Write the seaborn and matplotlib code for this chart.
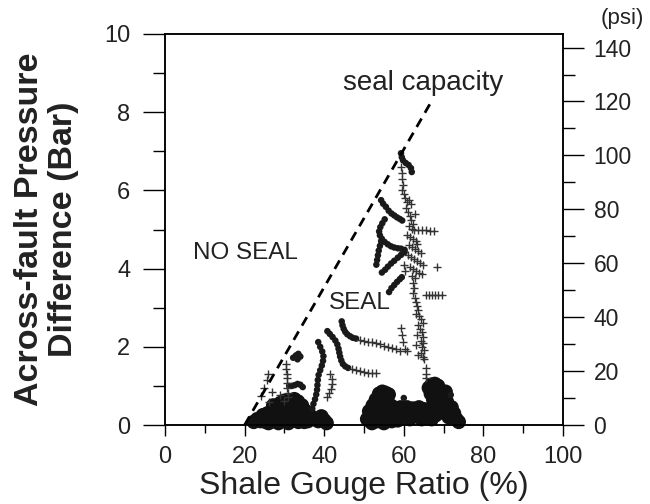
import matplotlib
matplotlib.use("Agg")
import matplotlib.pyplot as plt
from matplotlib.ticker import MultipleLocator
import seaborn as sns
import pandas as pd

# ---- data -------------------------------------------------------------
# seal-capacity envelope (SGR %, pressure bar)
seal_x = [20.0, 66.8]
seal_y = [0.0, 8.25]

# continuous pressure profiles plotted as dots
dot_x = [
    59.3, 59.5, 59.8, 60.5, 61.2, 61.8, 62.0,
    54.3, 54.8, 55.5, 56.2, 56.9, 57.6, 58.3, 59.0, 59.6,
    55.2, 54.6, 54.1, 53.8, 54.0, 54.5, 55.2, 56.0, 56.8, 57.6, 58.5, 59.3, 60.2,
    54.3, 54.0, 53.7, 53.5, 53.3, 53.1,
    54.5, 55.3, 56.0, 56.8, 57.6, 58.5, 59.3, 60.2,
    56.3, 56.9, 57.6, 58.3, 59.0, 59.5,
    44.4, 44.6, 44.9, 45.3, 45.8, 46.5, 47.2, 48.0,
    40.8, 41.4, 42.1, 42.8, 43.3, 43.6, 43.8, 44.0, 44.3, 44.7, 45.3, 46.0,
    38.5, 39.0, 39.5, 39.8, 39.7, 39.4, 39.0, 38.6, 38.4, 38.3, 38.2, 38.0, 37.7, 37.3, 37.0,
    31.2, 31.9, 32.6, 33.3, 34.0, 34.6,
    32.2, 32.9, 33.5, 34.0, 33.3,
    60.0, 71.8,
]
dot_y = [
    6.95, 6.85, 6.77, 6.70, 6.65, 6.57, 6.47,
    5.75, 5.66, 5.58, 5.48, 5.41, 5.36, 5.31, 5.27, 5.23,
    5.26, 5.16, 5.06, 4.95, 4.85, 4.76, 4.68, 4.62, 4.57, 4.54, 4.52, 4.51, 4.48,
    4.70, 4.58, 4.46, 4.34, 4.22, 4.10,
    3.90, 3.97, 4.05, 4.13, 4.20, 4.28, 4.35, 4.42,
    3.40, 3.50, 3.58, 3.66, 3.73, 3.78,
    2.65, 2.55, 2.46, 2.38, 2.32, 2.27, 2.23, 2.21,
    2.40, 2.33, 2.25, 2.16, 2.06, 1.95, 1.85, 1.75, 1.65, 1.56, 1.50, 1.46,
    2.12, 2.00, 1.88, 1.76, 1.64, 1.52, 1.40, 1.28, 1.15, 1.02, 0.90, 0.78, 0.66, 0.54, 0.42,
    1.00, 1.00, 1.02, 1.05, 1.03, 0.97,
    1.72, 1.78, 1.82, 1.75, 1.68,
    0.69, 0.77,
]

# individual measurements plotted as crosses
plus_x = [
    59.3, 59.6, 59.5, 59.8, 59.6, 60.0, 60.4, 60.8, 61.3, 61.8,
    60.6, 61.0, 61.5, 61.8, 62.3, 61.4, 62.0, 62.7,
    62.5, 63.5, 64.5, 65.5, 66.5, 67.5,
    60.8, 61.5, 62.3, 63.0, 61.2, 62.0, 62.8, 63.5, 64.2, 61.0, 61.8, 62.5,
    63.3, 64.0, 64.7, 61.5, 62.3, 63.0, 63.8, 64.5, 62.0, 62.8, 60.4, 60.1, 63.4,
    68.3,
    62.3, 62.5, 62.4, 62.7, 63.0, 63.3, 63.6, 63.1, 63.8, 64.3, 64.7, 63.5, 64.0,
    64.5, 64.8, 64.2, 64.9, 64.5, 65.0, 64.3, 63.6, 64.8, 65.1, 63.3, 63.0,
    65.5, 66.3, 67.1, 67.9, 68.7, 69.5,
    59.3, 59.5, 59.8, 60.3, 60.8,
    65.5, 65.7, 65.5,
    49.0, 50.0, 51.0, 52.0, 53.0, 54.0, 55.0, 56.0, 57.0, 58.0, 59.0,
    47.0, 48.0, 49.0, 50.0, 51.0, 52.0, 53.0,
    41.5, 41.9, 42.0, 41.7, 41.2, 40.7,
    30.5, 30.5, 30.6, 30.6, 30.7, 30.7, 30.8, 30.8,
    24.0, 24.8, 25.6, 26.2, 27.0, 28.8, 29.8, 26.0,
]
plus_y = [
    6.60, 6.45, 6.30, 6.15, 6.00, 5.90, 5.80, 5.70, 5.75, 5.65,
    5.55, 5.45, 5.35, 5.25, 5.15, 5.10, 5.02, 5.40,
    4.99, 4.99, 4.98, 4.98, 4.97, 4.97,
    4.85, 4.80, 4.75, 4.70, 4.60, 4.55, 4.50, 4.45, 4.40, 4.35, 4.30, 4.25,
    4.20, 4.15, 4.10, 4.05, 4.00, 3.95, 3.90, 3.85, 3.80, 3.75, 3.95, 4.10, 4.62,
    4.04,
    3.62, 3.50, 3.38, 3.26, 3.15, 3.05, 2.95, 2.85, 2.80, 2.72, 2.62, 2.55, 2.45,
    2.38, 2.25, 2.15, 2.10, 2.00, 1.92, 1.85, 1.78, 1.75, 1.68, 2.30, 2.05,
    3.32, 3.32, 3.32, 3.33, 3.33, 3.33,
    2.48, 2.30, 2.12, 1.95, 1.88,
    1.45, 1.30, 1.20,
    2.18, 2.16, 2.13, 2.11, 2.09, 2.06, 2.03, 2.00, 1.97, 1.94, 1.89,
    1.43, 1.41, 1.38, 1.36, 1.34, 1.33, 1.33,
    1.30, 1.18, 1.05, 0.93, 0.82, 0.72,
    1.55, 1.43, 1.31, 1.19, 1.07, 0.95, 0.83, 0.71,
    0.75, 0.95, 1.15, 0.60, 0.85, 0.78, 0.62, 1.30,
]

# dense clusters of low-pressure measurements
blob_x = [
    22.3, 23.2, 24.0, 24.6, 25.3, 25.8, 26.4, 27.0, 27.5, 28.0, 28.6, 29.1, 29.6,
    30.2, 30.7, 31.2, 31.8, 32.3, 32.8, 33.4, 33.9, 34.4, 34.9, 35.4, 35.9, 36.4,
    26.0, 28.5, 31.0, 33.5, 30.0, 32.5, 29.0, 27.2, 34.0, 35.0,
    38.5, 39.3, 40.0, 40.6,
    50.8, 51.3, 51.6, 52.2, 52.5, 53.0, 53.3, 53.8, 54.0, 54.6, 54.8, 55.4, 55.5,
    56.2, 56.0, 56.7, 57.0, 52.0, 55.0,
    57.5, 58.3, 58.5, 59.2, 60.0, 60.8, 61.5, 62.3, 63.0, 63.8, 64.5, 65.2, 66.0,
    66.3, 67.0, 67.8, 68.6, 66.8, 67.4, 68.0, 68.5, 69.2, 69.0, 69.8, 70.3, 70.8,
    71.3, 72.0, 72.6, 73.2, 73.8, 67.0, 68.0, 66.5, 70.5,
]
blob_y = [
    0.08, 0.15, 0.10, 0.25, 0.08, 0.30, 0.15, 0.38, 0.10, 0.30, 0.45, 0.15, 0.35,
    0.50, 0.20, 0.40, 0.55, 0.25, 0.45, 0.60, 0.30, 0.50, 0.20, 0.35, 0.10, 0.25,
    0.05, 0.05, 0.05, 0.08, 0.62, 0.66, 0.56, 0.50, 0.12, 0.08,
    0.10, 0.22, 0.12, 0.05,
    0.15, 0.35, 0.10, 0.50, 0.25, 0.65, 0.10, 0.80, 0.40, 0.85, 0.20, 0.82, 0.55,
    0.78, 0.30, 0.50, 0.10, 0.05, 0.05,
    0.45, 0.30, 0.12, 0.45, 0.25, 0.45, 0.15, 0.42, 0.28, 0.45, 0.15, 0.40, 0.25,
    0.95, 1.03, 1.05, 1.00, 0.80, 0.65, 0.50, 0.70, 0.85, 0.40, 0.55, 0.30, 0.60,
    0.20, 0.45, 0.30, 0.15, 0.08, 0.15, 0.25, 0.40, 0.85,
]

# right-hand axis: bar -> psi
BAR_TO_PSI = 14.5038

# ---- figure -----------------------------------------------------------
sns.set_theme(style="ticks")
plt.rcParams["font.family"] = ["Liberation Sans", "DejaVu Sans"]
plt.rcParams["axes.linewidth"] = 1.1

fig = plt.figure(figsize=(6.5, 5.04), dpi=100)
ax = fig.add_axes([165 / 650, 1 - 425 / 504, (563 - 165) / 650, (425 - 34) / 504])

blobs = pd.DataFrame({"sgr": blob_x, "dp": blob_y})
dots = pd.DataFrame({"sgr": dot_x, "dp": dot_y})
plus = pd.DataFrame({"sgr": plus_x, "dp": plus_y})
seal = pd.DataFrame({"sgr": seal_x, "dp": seal_y})

sns.scatterplot(data=blobs, x="sgr", y="dp", ax=ax, s=110, color="#111111",
                edgecolor="none", marker="o", clip_on=False, zorder=3)
sns.scatterplot(data=dots, x="sgr", y="dp", ax=ax, s=22, color="#1a1a1a",
                edgecolor="none", marker="o", zorder=3)
sns.scatterplot(data=plus, x="sgr", y="dp", ax=ax, s=32, color="#333333",
                marker="+", linewidth=1.0, zorder=3)
sns.lineplot(data=seal, x="sgr", y="dp", ax=ax, color="black", linewidth=2.0,
             dashes=False, zorder=4)
ax.lines[-1].set_dashes([3.5, 2.4])

ax.set_xlim(0, 100)
ax.set_ylim(0, 10)
ax.xaxis.set_major_locator(MultipleLocator(20))
ax.xaxis.set_minor_locator(MultipleLocator(10))
ax.yaxis.set_major_locator(MultipleLocator(2))
ax.yaxis.set_minor_locator(MultipleLocator(1))
ax.tick_params(axis="y", which="major", length=16, width=1.0, pad=9,
               labelsize=17, color="black", labelcolor="#222222")
ax.tick_params(axis="y", which="minor", length=8.5, width=1.0, color="black")
ax.tick_params(axis="x", which="major", length=8, width=1.0, pad=7,
               labelsize=17, color="black", labelcolor="#222222")
ax.tick_params(axis="x", which="minor", length=6, width=1.0, color="black")
for sp in ax.spines.values():
    sp.set_color("black")
    sp.set_visible(True)

ax.set_xlabel("Shale Gouge Ratio (%)", fontsize=23, color="#222222", labelpad=2)
ax.set_ylabel("Across-fault Pressure\nDifference (Bar)", fontsize=24.5,
              fontweight="bold", color="#222222", labelpad=18, linespacing=1.12)

ax.text(64.9, 8.75, "seal capacity", fontsize=20, ha="center", va="center",
        color="#222222")
ax.text(20.3, 4.4, "NO SEAL", fontsize=17.5, ha="center", va="center",
        color="#222222")
ax.text(49.0, 3.12, "SEAL", fontsize=17.5, ha="center", va="center",
        color="#222222")

# secondary pressure scale in psi
ax2 = ax.twinx()
ax2.set_ylim(0, 10 * BAR_TO_PSI)
ax2.yaxis.set_major_locator(MultipleLocator(20))
ax2.yaxis.set_minor_locator(MultipleLocator(10))
ax2.tick_params(axis="y", which="major", length=15, width=1.0, pad=7,
                labelsize=16.5, color="black", labelcolor="#222222")
ax2.tick_params(axis="y", which="minor", length=8.5, width=1.0, color="black")
for sp in ax2.spines.values():
    sp.set_color("black")
ax2.text(1.148, 1.04, "(psi)", transform=ax.transAxes, fontsize=16,
         ha="center", va="center", color="#222222")

fig.savefig("out.png", dpi=100)
